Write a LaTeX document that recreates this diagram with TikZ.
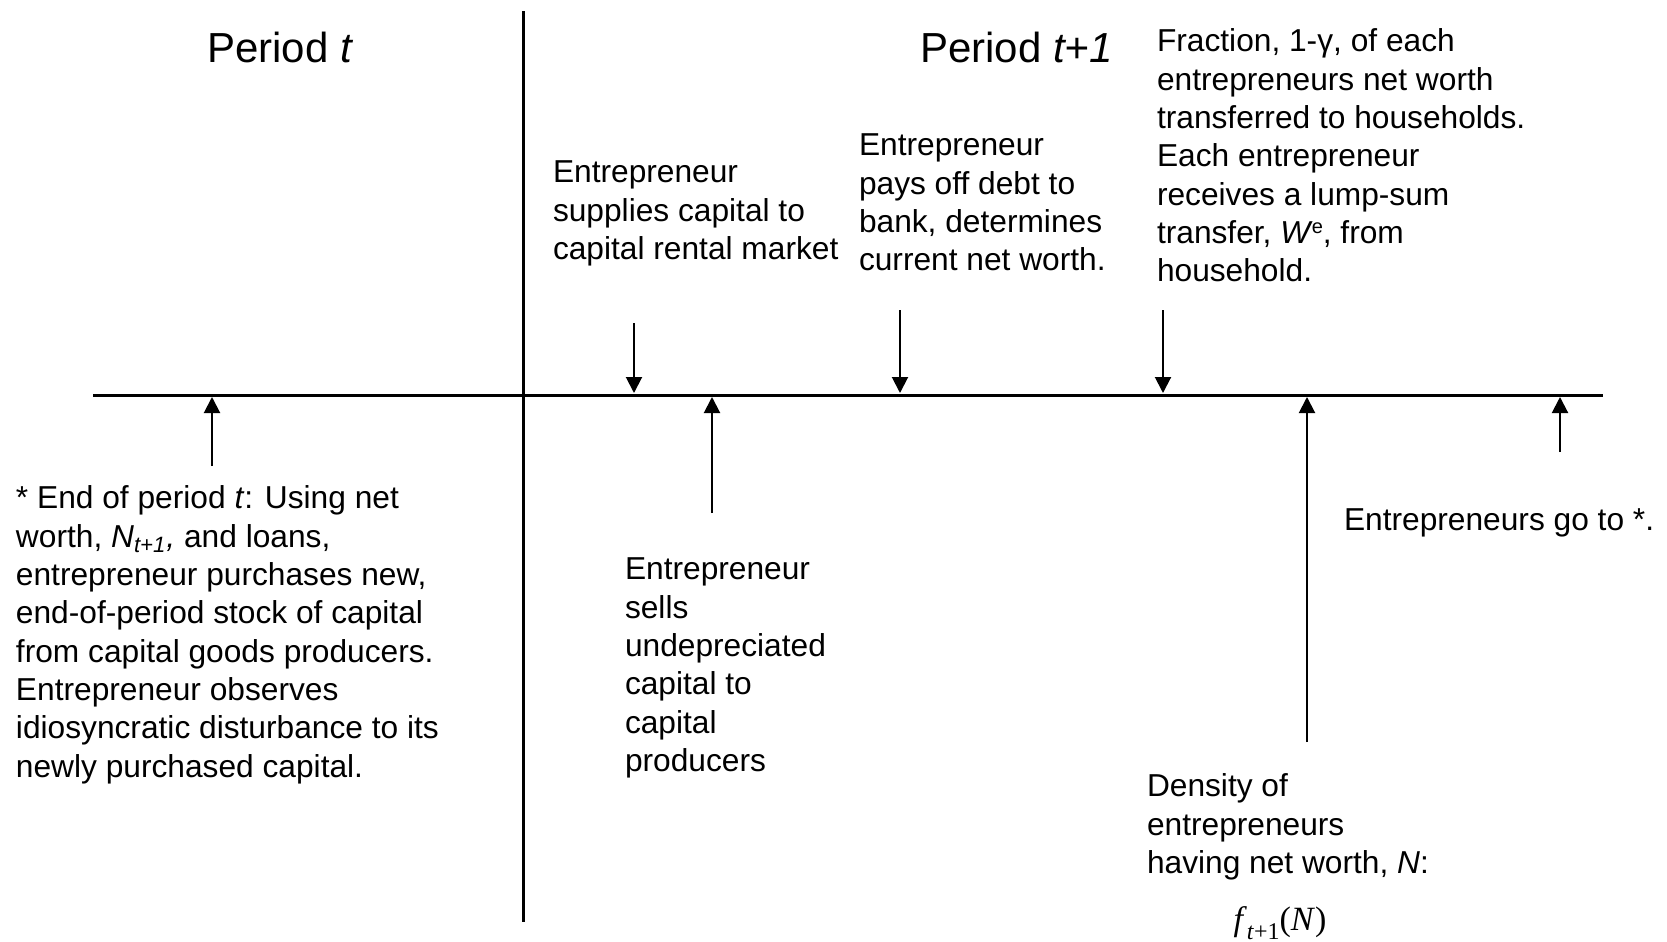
\documentclass[tikz,border=0pt]{standalone}
\usepackage{fontspec}
\setmainfont{Liberation Sans}
\newfontfamily\tmsfont{Liberation Serif}
\usetikzlibrary{arrows.meta}
\begin{document}
\begin{tikzpicture}[x=0.5pt,y=-0.5pt,
  body/.style={inner sep=0pt,outer sep=0pt,align=left,anchor=north west,
    font=\fontsize{15.85}{19.15}\selectfont,
    execute at begin node={\rule{0pt}{12pt}}},
  single/.style={inner sep=0pt,outer sep=0pt,anchor=base west,
    font=\fontsize{15.85}{19.15}\selectfont},
  title/.style={inner sep=0pt,outer sep=0pt,anchor=base west,
    font=\fontsize{21}{25}\selectfont},
  axis/.style={line width=1.5pt},
  marker/.style={line width=1pt,-{Triangle[length=8pt,width=8pt]}}]
\useasboundingbox (0,0) rectangle (1667,942);
% axes
\coordinate (hl) at (93,395);
\coordinate (hr) at (1603,395);
\coordinate (vt) at (523,11);
\coordinate (vb) at (523,922);
\draw[axis] (hl) -- (hr);
\draw[axis] (vt) -- (vb);
% titles
\node[title] (pt) at (207,62) {Period \textit{t}};
\node[title] (pt1) at (920,62) {Period \textit{t+1}};
% texts
\node[body] (b1) at (16,486) {* End of period \textit{t}: Using net\\
worth, \textit{N\textsubscript{t+1},} and loans,\\
entrepreneur purchases new,\\
end-of-period stock of capital\\
from capital goods producers.\\
Entrepreneur observes\\
idiosyncratic disturbance to its\\
newly purchased capital.};
\node[body] (b2) at (553,161) {Entrepreneur\\
supplies capital to\\
capital rental market};
\node[body] (b3) at (859,134) {Entrepreneur\\
pays off debt to\\
bank, determines\\
current net worth.};
\node[body] (b4) at (1157,29) {Fraction, 1-γ, of each\\
entrepreneurs net worth\\
transferred to households.\\
Each entrepreneur\\
receives a lump-sum\\
transfer, \textit{W}\kern-0.5pt\raisebox{0.33em}{\fontsize{10}{10}\selectfont e}, from\\
household.};
\node[body] (b6) at (625,558) {Entrepreneur\\
sells\\
undepreciated\\
capital to\\
capital\\
producers};
\node[body] (b7) at (1147,774) {Density of\\
entrepreneurs\\
having net worth, \textit{N}:};
\node[single] (b8) at (1344,530) {Entrepreneurs go to *.};
\node[inner sep=0pt,anchor=base,font=\fontsize{17}{20}\tmsfont] (fn) at (1280,930)
  {\textit{f}\raisebox{-0.28em}{\fontsize{12}{13}\selectfont\textit{t}+1}(\textit{N})};
% arrows
\coordinate (a1s) at (212,466); \coordinate (a1e) at (212,397);
\coordinate (a2s) at (634,323); \coordinate (a2e) at (634,393);
\coordinate (a3s) at (712,513); \coordinate (a3e) at (712,397);
\coordinate (a4s) at (900,310); \coordinate (a4e) at (900,393);
\coordinate (a5s) at (1163,310); \coordinate (a5e) at (1163,393);
\coordinate (a6s) at (1307,742); \coordinate (a6e) at (1307,397);
\coordinate (a7s) at (1560,452); \coordinate (a7e) at (1560,397);
\foreach \i in {1,...,7} \draw[marker] (a\i s) -- (a\i e);
\end{tikzpicture}
\end{document}
